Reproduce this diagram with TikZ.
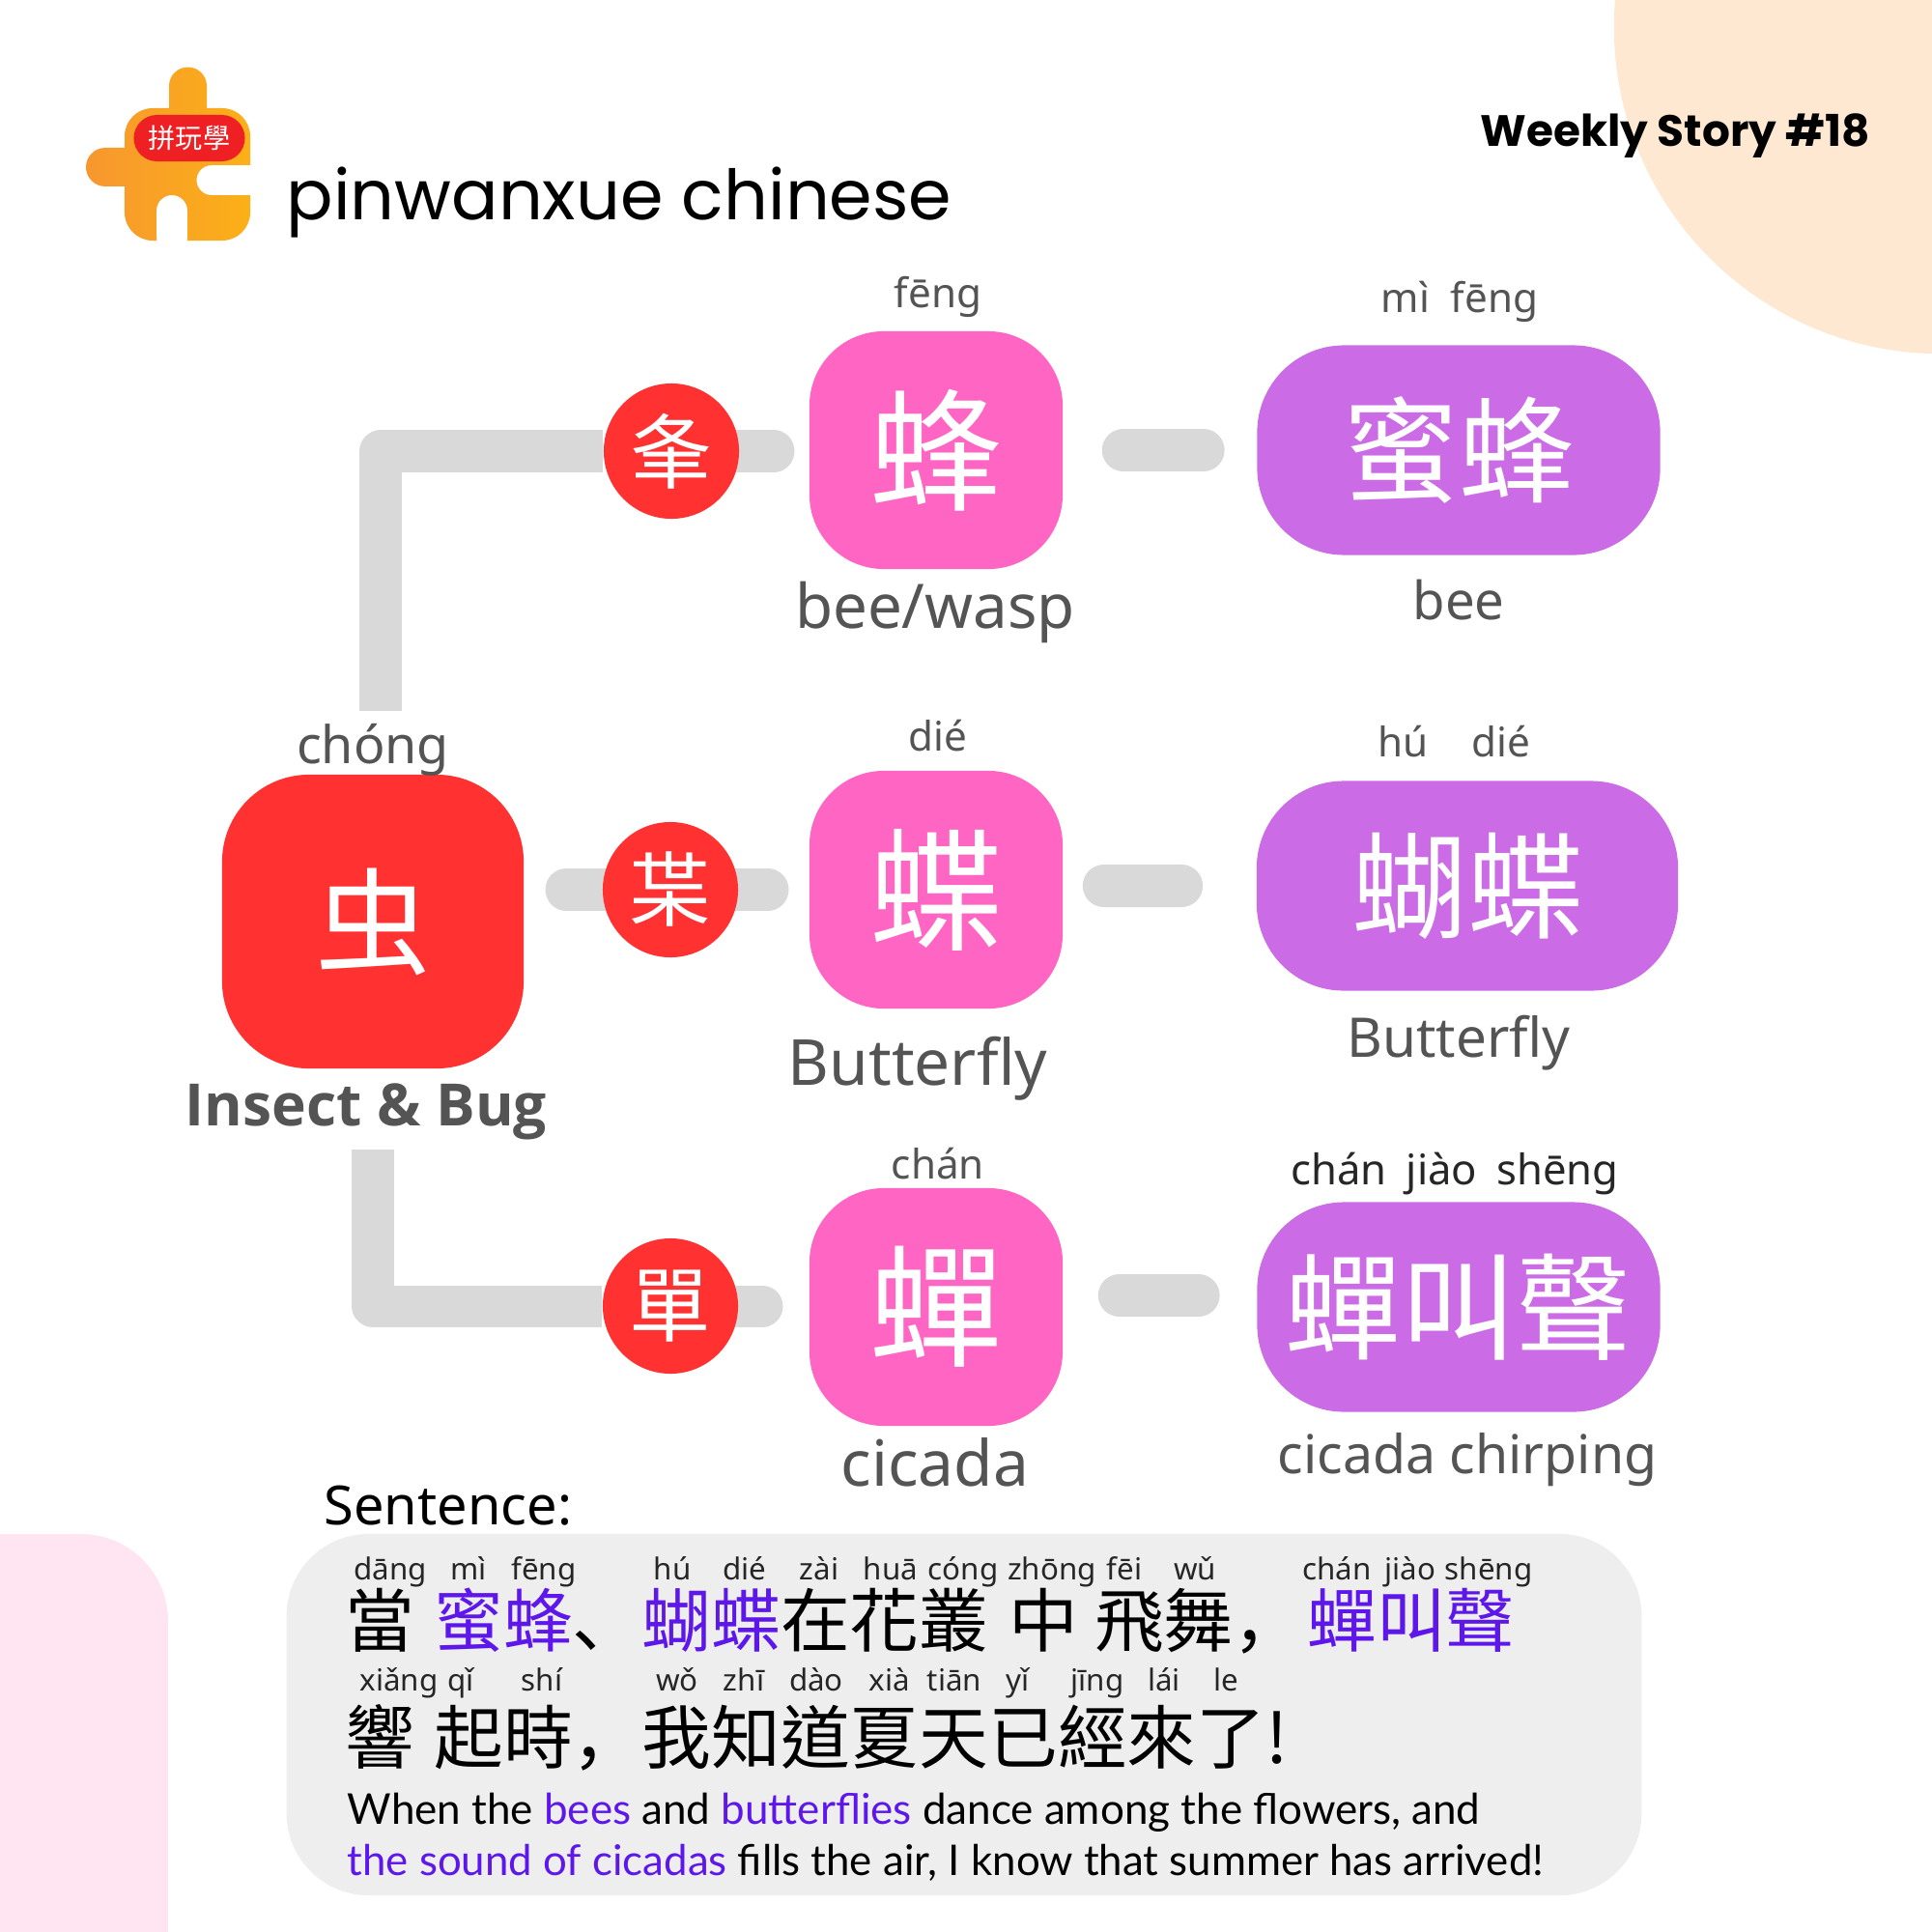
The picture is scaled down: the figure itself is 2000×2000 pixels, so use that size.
\documentclass[tikz,border=0pt]{standalone}
\usepackage{fontspec}
\usepackage{xcolor}
\usepackage{tikz}
\usetikzlibrary{backgrounds}
\setmainfont{Noto Sans}
\newfontfamily\cjk{Noto Sans CJK TC}
\newfontfamily\cjkp{Noto Sans CJK SC}
\newfontfamily\titlefont{Poppins}
\newfontfamily\heavyfont{Open Sans}
\newfontfamily\engfont{Lato}
\newcommand{\fs}[1]{\fontsize{#1}{#1}\selectfont}
\definecolor{rootred}{HTML}{FF3131}
\definecolor{charpink}{HTML}{FF66C4}
\definecolor{wordpurple}{HTML}{CB6CE6}
\definecolor{linkgray}{HTML}{D9D9D9}
\definecolor{textgray}{HTML}{545454}
\definecolor{sentpurple}{HTML}{5E17EB}
\definecolor{logoleft}{HTML}{F7972F}
\definecolor{logoright}{HTML}{FBB018}
\definecolor{logored}{HTML}{EE2024}
\definecolor{peach}{HTML}{FEE8D2}
\definecolor{blush}{HTML}{FFE4F2}

\begin{document}
\begin{tikzpicture}[x=0.01cm,y=-0.01cm,
    rootbox/.style={rectangle, fill=rootred, text=white, rounded corners=0.9cm, minimum width=3.12cm, minimum height=3.04cm, inner sep=0pt, font=\cjk\fs{34pt}},
    charbox/.style={rectangle, fill=charpink, text=white, rounded corners=0.77cm, minimum width=2.62cm, minimum height=2.46cm, inner sep=0pt, font=\cjk\fs{39pt}},
    wordbox/.style={rectangle, fill=wordpurple, text=white, rounded corners=0.9cm, minimum height=2.17cm, inner sep=0pt, font=\cjk\fs{34pt}},
    radical/.style={circle, fill=rootred, text=white, minimum size=1.4cm, inner sep=0pt, font=\cjk\fs{24pt}},
    pinyin/.style={anchor=base, inner sep=0pt, text=textgray, font=\fs{12pt}},
    meaning/.style={anchor=base, inner sep=0pt, text=textgray, font=\fs{18.7pt}},
    wordmeaning/.style={anchor=base, inner sep=0pt, text=textgray, font=\fs{15.75pt}},
    ruby/.style={anchor=base, inner sep=0pt, text=black!85, font=\fs{8.9pt}},
    sentline/.style={anchor=base west, inner sep=0pt, font=\cjk\fs{20.4pt}},
    engline/.style={anchor=base west, inner sep=0pt, font=\engfont\fs{12.5pt}},
    link/.style={draw=linkgray, line width=0.43cm, line join=round},
    stub/.style={draw=linkgray, line width=0.44cm, line cap=round}
]
\clip (0,0) rectangle (2000,2000);

\fill[fill=peach] (2009,28) circle (3.38cm);
\fill[fill=blush, rounded corners=0.9cm] (-150,1588) rectangle (174,2150);

% logo
\shade[left color=logoleft, right color=logoright] (175,112) -- (175,89) arc (180:0:0.195cm) -- (214,112) -- (230,112) arc (90:0:0.29cm) -- (259,171) -- (219,171) arc (90:270:0.155cm) -- (259,202) -- (259,220) arc (0:-90:0.29cm) -- (194,249) -- (194,218) arc (0:180:0.16cm) -- (162,249) -- (158,249) arc (270:180:0.29cm) -- (129,193) -- (109,193) arc (270:90:0.2cm) -- (129,153) -- (129,141) arc (180:90:0.29cm) -- cycle;
\node[rectangle, fill=logored, text=white, rounded corners=0.24cm, minimum width=1.15cm, minimum height=0.48cm, inner sep=0pt, font=\cjk\fs{8pt}] (logotag) at (196,143) {拼玩學};
\node[anchor=base west, inner sep=0pt, font=\titlefont\fs{20.4pt}] (title) at (296,228) {pinwanxue chinese};
\node[anchor=base east, inner sep=0pt, font=\titlefont\bfseries\fs{12.9pt}] (weekly) at (1937,152) {Weekly Story \#18};

\node[rootbox] (chong) at (386,954) {\raisebox{0.04cm}{虫}};
\node[charbox] (feng) at (969,466) {蜂};
\node[charbox] (die) at (969,921) {蝶};
\node[charbox] (chan) at (969,1353) {蟬};
\node[wordbox, minimum width=4.17cm] (mifeng) at (1510,466) {蜜蜂};
\node[wordbox, minimum width=4.36cm] (hudie) at (1519,917) {蝴蝶};
\node[wordbox, minimum width=4.17cm] (chanjiao) at (1510,1353) {蟬叫聲};
\node[radical] (fengpart) at (695,467) {夆};
\node[radical] (diepart) at (694,921) {枼};
\node[radical] (chanpart) at (694,1352) {單};

\coordinate (topstart) at (394,736);
\coordinate (topend) at (822,467);
\coordinate (midstart) at (565,921);
\coordinate (midend) at (816,921);
\coordinate (lowstart) at (386,1190);
\coordinate (lowend) at (810,1352);

\begin{scope}[on background layer]
\draw[link] (topstart) |- (fengpart);
\draw[link, line cap=round, shorten >=0.21cm] (fengpart) -- (topend);
\draw[link, line cap=round, shorten <=0.21cm, shorten >=0.21cm] (midstart) -- (midend);
\draw[link] (lowstart) |- (chanpart);
\draw[link, line cap=round, shorten >=0.21cm] (chanpart) -- (lowend);
\end{scope}

\draw[stub, shorten <=0.62cm, shorten >=0.55cm] (feng.east) -- (mifeng.west);
\draw[stub, shorten <=0.42cm, shorten >=0.77cm] ([yshift=0.04cm]die.east) -- (hudie.west);
\draw[stub, shorten <=0.58cm, shorten >=0.60cm] ([yshift=0.12cm]chan.east) -- ([yshift=0.12cm]chanjiao.west);

\node[pinyin] (fengpy) at (971,318) {fēng};
\node[pinyin] (mifengpy) at (1511,323) {mì\hspace{0.22cm}fēng};
\node[pinyin] (diepy) at (971,777) {dié};
\node[pinyin] (hudiepy) at (1505,783) {hú\hspace{0.45cm}dié};
\node[pinyin] (chanpy) at (971,1220) {chán};
\node[pinyin, text=black!85, font=\fs{12.4pt}] (chanjiaopy) at (1506,1226) {chán\hspace{0.2cm}jiào\hspace{0.2cm}shēng};
\node[pinyin, font=\fs{15.3pt}] (chongpy) at (386,790) {chóng};

\node[meaning, font=\fs{18.1pt}] (fengmean) at (968,650) {bee/wasp};
\node[wordmeaning, font=\fs{15.5pt}] (mifengmean) at (1510,641) {bee};
\node[meaning] (diemean) at (950,1123) {Butterfly};
\node[wordmeaning, font=\fs{16.1pt}] (hudiemean) at (1510,1094) {Butterfly};
\node[meaning] (chanmean) at (968,1538) {cicada};
\node[wordmeaning] (chanjiaomean) at (1519,1525) {cicada chirping};
\node[meaning, font=\heavyfont\bfseries\fs{17.2pt}] (chongmean) at (379,1165) {Insect \& Bug};

\node[anchor=base west, inner sep=0pt, font=\fs{15.9pt}] (senttitle) at (335,1578) {Sentence:};
\node[fill=black!6.5, rounded corners=0.85cm, minimum width=14.02cm, minimum height=3.74cm, inner sep=0pt] (sentbox) at (998,1775) {};

\foreach \word/\px in {dāng/404, mì/485, fēng/563, hú/696, dié/771, zài/848, huā/922, cóng/997, zhōng/1089, fēi/1164, wǔ/1237, chán/1384, jiào/1460, shēng/1541}
  \node[ruby] (py-\px) at (\px,1635) {\word};
\foreach \word/\px in {xiǎng/413, qǐ/477, shí/561, wǒ/701, zhī/770, dào/845, xià/921, tiān/988, yǐ/1054, jīng/1136, lái/1205, le/1269}
  \node[ruby] (pyb-\px) at (\px,1750) {\word};

\node[sentline] (sentone) at (357,1704) {當\hspace{0.2cm}\textcolor{sentpurple}{蜜蜂}{\cjkp 、}\textcolor{sentpurple}{蝴蝶}在花叢\hspace{0.21cm}中\hspace{0.17cm}飛舞{\cjkp ，}\hspace{0.05cm}\textcolor{sentpurple}{蟬叫聲}};
\node[sentline] (senttwo) at (357,1825) {響\hspace{0.2cm}起時{\cjkp ，}我知道夏天已經來了!};
\node[engline] (engone) at (359,1888) {When the \textcolor{sentpurple}{bees} and \textcolor{sentpurple}{butterflies} dance among the flowers, and};
\node[engline, font=\engfont\fs{12.45pt}] (engtwo) at (359,1941) {\textcolor{sentpurple}{the sound of cicadas} fills the air, I know that summer has arrived!};

\end{tikzpicture}
\end{document}
